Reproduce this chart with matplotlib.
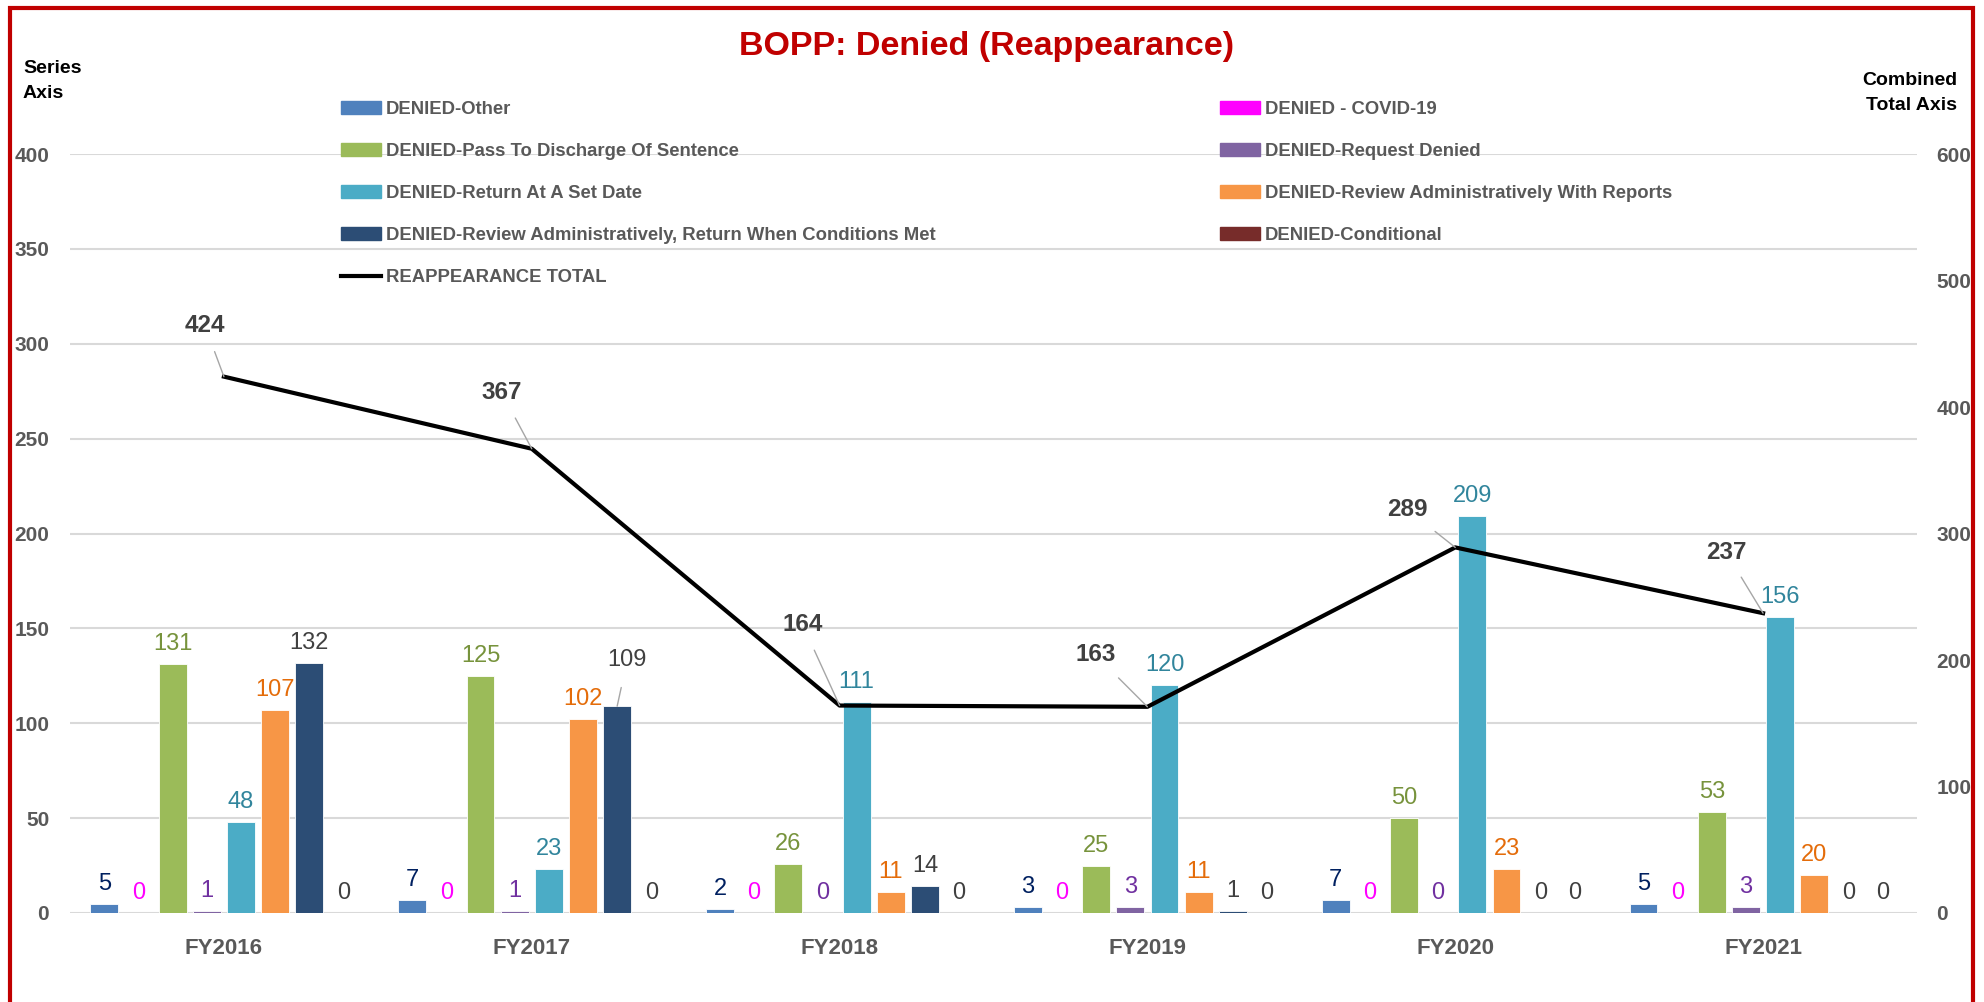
import numpy as np
import matplotlib
matplotlib.use("Agg")
import matplotlib.pyplot as plt
from matplotlib.patches import Rectangle, Patch
from matplotlib.lines import Line2D

plt.rcParams['font.family'] = ['Liberation Sans', 'DejaVu Sans']

years = ["FY2016", "FY2017", "FY2018", "FY2019", "FY2020", "FY2021"]

series_names = [
    "DENIED-Other",
    "DENIED - COVID-19",
    "DENIED-Pass To Discharge Of Sentence",
    "DENIED-Request Denied",
    "DENIED-Return At A Set Date",
    "DENIED-Review Administratively With Reports",
    "DENIED-Review Administratively, Return When Conditions Met",
    "DENIED-Conditional",
]
other = [5, 7, 2, 3, 7, 5]
covid = [0, 0, 0, 0, 0, 0]
pass_discharge = [131, 125, 26, 25, 50, 53]
request_denied = [1, 1, 0, 3, 0, 3]
return_set_date = [48, 23, 111, 120, 209, 156]
review_reports = [107, 102, 11, 11, 23, 20]
review_conditions = [132, 109, 14, 1, 0, 0]
conditional = [0, 0, 0, 0, 0, 0]
total = [424, 367, 164, 163, 289, 237]

series_values = [other, covid, pass_discharge, request_denied,
                 return_set_date, review_reports, review_conditions, conditional]

bar_colors = ["#4F81BD", "#FF00FF", "#9BBB59", "#8064A2",
              "#4BACC6", "#F79646", "#2C4D75", "#772C2A"]
label_colors = ["#002060", "#FF00FF", "#77933C", "#7030A0",
                "#31859C", "#E46C0A", "#404040", "#404040"]

# pixel offsets of the total labels from their points
total_offsets = [(-19, 51), (-30, 56), (-37, 81), (-52, 52), (-48, 38), (-37, 61)]

fig = plt.figure(figsize=(19.84, 10.02), dpi=100)
ax = fig.add_axes([70 / 1984, 1 - 913 / 1002, (1917 - 70) / 1984, (913 - 154) / 1002])
ax2 = ax.twinx()

x = np.arange(len(years))
slot = 0.111
width = 0.09
for i, (vals, col, lcol) in enumerate(zip(series_values, bar_colors, label_colors)):
    pos = x + (i - 3.5) * slot
    ax.bar(pos, vals, width, color=col, edgecolor="white", linewidth=0.6, zorder=2)
    for j, (px, v) in enumerate(zip(pos, vals)):
        if (i, j) == (6, 1):
            # this one was moved up in the original to clear the 102 label
            ax.annotate(str(v), (px, v), xytext=(10, 46), textcoords="offset pixels",
                        ha="center", va="center", fontsize=17, color=lcol,
                        arrowprops=dict(arrowstyle="-", color="#A6A6A6", lw=1,
                                        shrinkA=10, shrinkB=0))
        else:
            ax.annotate(str(v), (px, v), xytext=(0, 9), textcoords="offset pixels",
                        ha="center", va="bottom", fontsize=17, color=lcol)

ax2.plot(x, total, color="black", lw=3, zorder=3)
for px, v, off in zip(x, total, total_offsets):
    ax2.annotate(str(v), (px, v), xytext=off, textcoords="offset pixels",
                 ha="center", va="center", fontsize=17.5, fontweight="bold", color="#404040",
                 arrowprops=dict(arrowstyle="-", color="#A6A6A6", lw=1, shrinkA=9, shrinkB=0))

ax.set_xlim(-0.5, 5.5)
ax.set_ylim(0, 400)
ax2.set_ylim(0, 600)
ax.set_yticks(range(0, 401, 50))
ax2.set_yticks(range(0, 601, 100))
ax.set_xticks(x)
ax.set_xticklabels(years)
ax.grid(axis="y", color="#D9D9D9", lw=1.5, zorder=0)
ax.set_axisbelow(True)
for a in (ax, ax2):
    for s in a.spines.values():
        s.set_visible(False)
ax.tick_params(axis="y", length=0, pad=15, labelsize=15, labelcolor="#595959")
ax2.tick_params(axis="y", length=0, pad=14, labelsize=15, labelcolor="#595959")
ax.tick_params(axis="x", length=0, pad=18, labelsize=16, labelcolor="#595959")
for lab in ax.get_yticklabels() + ax2.get_yticklabels() + ax.get_xticklabels():
    lab.set_fontweight("bold")

# legends: Excel order reads across rows, so split into two columns
left_idx = [0, 2, 4, 6]
right_idx = [1, 3, 5, 7]
left_handles = [Patch(color=bar_colors[i], label=series_names[i]) for i in left_idx]
left_handles.append(Line2D([], [], color="black", lw=3, label="REAPPEARANCE TOTAL"))
right_handles = [Patch(color=bar_colors[i], label=series_names[i]) for i in right_idx]
leg_kw = dict(loc="upper left", frameon=False, fontsize=13.3, handlelength=2.16,
              handleheight=0.7, handletextpad=0.27, labelspacing=1.36,
              borderaxespad=0, borderpad=0)
leg1 = fig.legend(handles=left_handles, bbox_to_anchor=(341 / 1984, 1 - 101 / 1002), **leg_kw)
leg2 = fig.legend(handles=right_handles, bbox_to_anchor=(1220 / 1984, 1 - 101 / 1002), **leg_kw)
for leg in (leg1, leg2):
    for t in leg.get_texts():
        t.set_color("#595959")
        t.set_fontweight("bold")

fig.text(987 / 1984, 1 - 46 / 1002, "BOPP: Denied (Reappearance)", ha="center", va="center",
         fontsize=24.5, fontweight="bold", color="#C00000")
fig.text(23 / 1984, 1 - 81 / 1002, "Series\nAxis", ha="left", va="center",
         fontsize=14, fontweight="bold", color="black", linespacing=1.55)
fig.text(1957 / 1984, 1 - 93 / 1002, "Combined\nTotal Axis", ha="right", va="center",
         fontsize=14, fontweight="bold", color="black", linespacing=1.55)

fig.patches.append(Rectangle((10 / 1984, -0.05), 1963 / 1984, 1.05 - 8 / 1002,
                             transform=fig.transFigure, fill=False,
                             edgecolor="#C00000", lw=3))

fig.savefig("out.png", dpi=100)
